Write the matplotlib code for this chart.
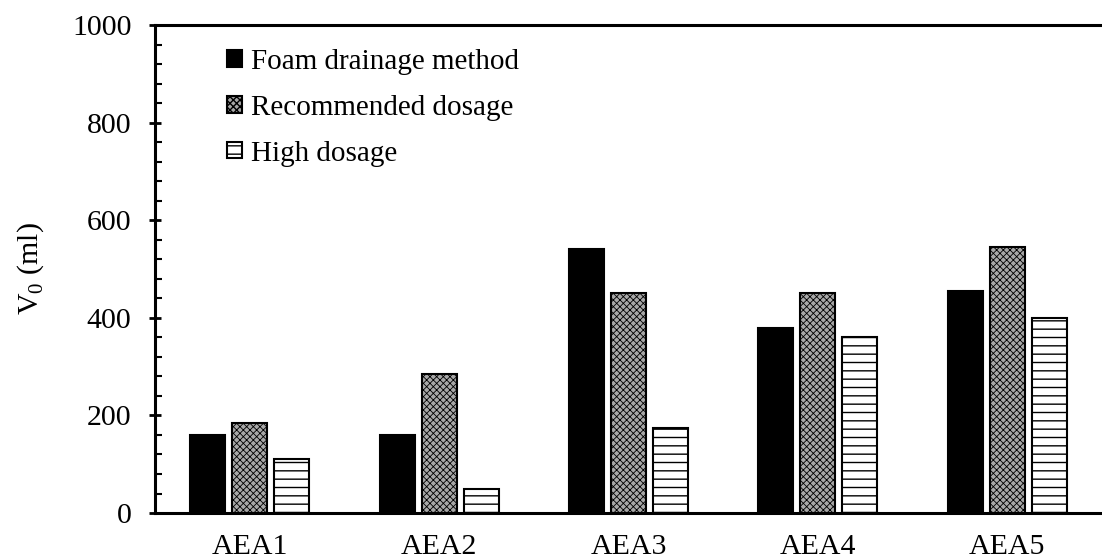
import numpy as np
import matplotlib
matplotlib.use("Agg")
import matplotlib.pyplot as plt
from matplotlib.ticker import MultipleLocator

plt.rcParams['font.family'] = 'Liberation Serif'
plt.rcParams['mathtext.fontset'] = 'custom'
plt.rcParams['mathtext.rm'] = 'Liberation Serif'

# V0 for each air-entraining agent
agents = ['AEA1', 'AEA2', 'AEA3', 'AEA4', 'AEA5']
foam_drainage = [160, 160, 540, 380, 455]
recommended = [185, 285, 450, 450, 545]
high_dosage = [110, 50, 175, 360, 400]

# label, values, face colour, hatch, hatch line width
series = [
    ('Foam drainage method', foam_drainage, 'black', None, 1.0),
    ('Recommended dosage', recommended, '#a8a8a8', 'xxxxx', 0.6),
    ('High dosage', high_dosage, 'white', '--', 1.0),
]

fig = plt.figure(figsize=(11.02, 5.58), dpi=100)
ax = fig.add_axes([0.1407, 0.0806, 0.8593, 0.8746])

x = np.arange(len(agents))
width = 0.185
step = 0.222
for i, (label, vals, fc, hatch, hlw) in enumerate(series):
    with plt.rc_context({'hatch.linewidth': hlw}):
        ax.bar(x + (i - 1) * step, vals, width, color=fc, edgecolor='black',
               linewidth=1.5, hatch=hatch, label=label, zorder=2)

ax.set_xlim(-0.5, len(agents) - 0.5)
ax.set_ylim(0, 1000)
ax.set_xticks(x)
ax.set_xticklabels(agents)
ax.yaxis.set_major_locator(MultipleLocator(200))
ax.yaxis.set_minor_locator(MultipleLocator(40))

ax.tick_params(axis='x', length=0, pad=15, labelsize=21.5)
ax.tick_params(axis='y', which='major', direction='inout', length=8,
               width=2, pad=13, labelsize=21.5)
ax.tick_params(axis='y', which='minor', direction='in', length=5, width=1.5)

for side in ['left', 'bottom', 'top']:
    ax.spines[side].set_linewidth(2.2)
ax.spines['right'].set_visible(False)

ax.set_ylabel(r'V$_\mathregular{0}$ (ml)', fontsize=21.5, labelpad=19)

ax.legend(loc='upper left', bbox_to_anchor=(0.064, 0.975), frameon=False,
          fontsize=21, handlelength=0.5, handleheight=0.5,
          handletextpad=0.3, labelspacing=0.68, borderaxespad=0)

fig.savefig('out.png', dpi=100)
